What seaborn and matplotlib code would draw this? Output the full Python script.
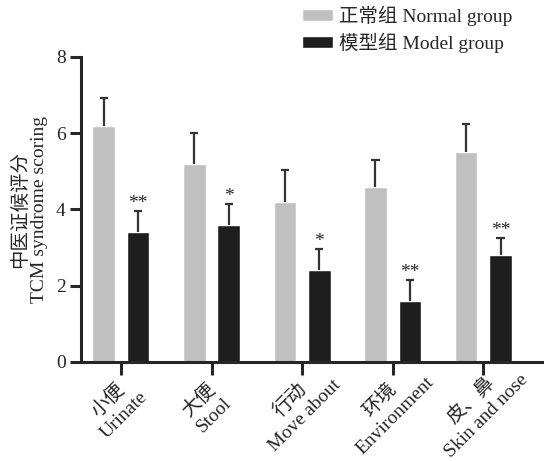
import numpy as np
import pandas as pd
import matplotlib
matplotlib.use('Agg')
import matplotlib.pyplot as plt
import matplotlib.transforms as mtransforms
import seaborn as sns

categories = ['小便\nUrinate', '大便\nStool', '行动\nMove about', '环境\nEnvironment', '皮、鼻\nSkin and nose']
groups = ['正常组 Normal group', '模型组 Model group']
normal_mean = [6.2, 5.2, 4.2, 4.6, 5.5]
normal_sd = [0.72, 0.8, 0.84, 0.7, 0.74]
model_mean = [3.4, 3.6, 2.4, 1.6, 2.8]
model_sd = [0.55, 0.54, 0.56, 0.55, 0.44]
model_stars = ['**', '*', '*', '**', '**']

FONT = ['Liberation Serif', 'Noto Sans CJK SC']

sns.set_style('ticks')
plt.rcParams['font.family'] = FONT
plt.rcParams['axes.unicode_minus'] = False

df = pd.DataFrame({
    'category': categories * 2,
    'score': normal_mean + model_mean,
    'group': [groups[0]] * 5 + [groups[1]] * 5,
})

fig = plt.figure(figsize=(5.44, 4.61), dpi=100)
ax = fig.add_axes([0.149, 0.2148, 0.851, 0.6616])

sns.barplot(data=df, x='category', y='score', hue='group', order=categories,
            hue_order=groups, palette=['#c0c0c0', '#1e1e1e'], saturation=1,
            width=0.76, gap=0.34, errorbar=None, ax=ax)

# upward-only error bars (stem + top cap)
for cont, sds in [(ax.containers[0], normal_sd), (ax.containers[1], model_sd)]:
    xs = np.array([p.get_x() + p.get_width() / 2 for p in cont.patches])
    hs = np.array([p.get_height() for p in cont.patches])
    tops = hs + np.array(sds)
    ax.vlines(xs, hs, tops, color='#333333', lw=1.6, zorder=1)
    ax.hlines(tops, xs - 0.045, xs + 0.045, color='#333333', lw=1.6, zorder=1)

for p, sd, s in zip(ax.containers[1].patches, model_sd, model_stars):
    ax.text(p.get_x() + p.get_width() / 2, p.get_height() + sd - 0.02, s,
            ha='center', va='bottom', fontsize=14, family=FONT)

ax.set_ylim(0, 8)
ax.set_xlim(-0.44, 4.67)
ax.set_yticks([0, 2, 4, 6, 8])
ax.set_xticks(range(5))
ax.set_xticklabels(categories, rotation=45, ha='center', va='center', rotation_mode='anchor',
                   ma='center', fontsize=14, linespacing=1.3)
ax.tick_params(axis='y', labelsize=14, width=2.2, length=8, pad=3)
ax.tick_params(axis='x', width=2.2, length=9, pad=24)
shift = mtransforms.ScaledTranslation(-5 / 100, 0, fig.dpi_scale_trans)
for lbl in ax.get_xticklabels():
    lbl.set_transform(lbl.get_transform() + shift)
ax.set_xlabel('')
ax.set_ylabel('中医证候评分\nTCM syndrome scoring', fontsize=14, labelpad=6, linespacing=1.15)
for side in ['left', 'bottom']:
    ax.spines[side].set_linewidth(2.2)
sns.despine(ax=ax)

handles, labels = ax.get_legend_handles_labels()
ax.get_legend().remove()
fig.legend(handles, labels, loc='upper left', bbox_to_anchor=(0.523, 1.026), frameon=False,
           fontsize=14, handlelength=1.6, handleheight=0.55, handletextpad=0.3,
           labelspacing=0.35)

fig.savefig('out.png', dpi=100)
